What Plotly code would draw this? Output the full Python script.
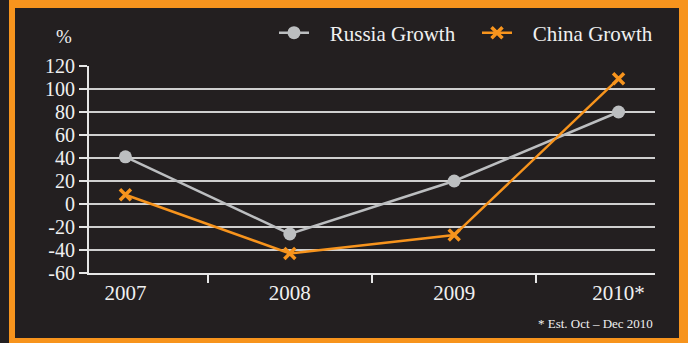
import plotly.graph_objects as go

years = ["2007", "2008", "2009", "2010*"]
russia = [41, -26, 20, 80]
china = [8, -43, -27, 109]
y_ticks = [-60, -40, -20, 0, 20, 40, 60, 80, 100, 120]
y_tick_labels = [str(v) for v in y_ticks]

BG = "#231f20"
ORANGE = "#f7941d"
GRAY = "#bcbec0"
TXT = "#f0f0f0"
FONT = "Liberation Serif"
NB = "\u00a0"

W, H = 688, 343
L, R, T, B = 89, 33, 66, 70
PW, PH = W - L - R, H - T - B


def px(x):
    return (x - L) / PW


def py(y):
    return (H - B - y) / PH


fig = go.Figure()
fig.add_trace(go.Scatter(
    x=years, y=russia, name=NB * 3 + "Russia Growth", mode="lines+markers",
    line=dict(color=GRAY, width=2.5),
    marker=dict(symbol="circle", size=13, color=GRAY),
))
fig.add_trace(go.Scatter(
    x=years, y=china, name=NB * 3 + "China Growth", mode="lines+markers",
    line=dict(color=ORANGE, width=2.5),
    marker=dict(symbol="x-thin", size=11, color=ORANGE,
                line=dict(color=ORANGE, width=3.5)),
))

shapes = []
for (x0, y0, x1, y1) in [(9, 0, 15, 343), (9, 0, 688, 8), (679, 0, 688, 343), (9, 338, 688, 343)]:
    shapes.append(dict(type="rect", xref="paper", yref="paper",
                       x0=px(x0), x1=px(x1), y0=py(y0), y1=py(y1),
                       fillcolor=ORANGE, line=dict(width=0), layer="below"))

fig.update_layout(
    width=W, height=H,
    margin=dict(l=L, r=R, t=T, b=B, autoexpand=False),
    paper_bgcolor=BG, plot_bgcolor=BG,
    font=dict(family=FONT, color=TXT, size=20),
    shapes=shapes,
    showlegend=True,
    legend=dict(orientation="h", x=px(274), xanchor="left", y=py(33), yanchor="middle",
                font=dict(family=FONT, size=21, color=TXT),
                bgcolor="rgba(0,0,0,0)", itemwidth=30, tracegroupgap=0,
                entrywidth=158, entrywidthmode="pixels"),
    xaxis=dict(type="category", showgrid=False, showline=True, linecolor="#e6e6e6",
               linewidth=2, ticks="outside", tickson="boundaries", ticklen=8,
               tickcolor="#e6e6e6", tickwidth=2,
               tickfont=dict(family=FONT, size=21, color=TXT), zeroline=False),
    yaxis=dict(range=[-60, 120], tickvals=y_ticks, ticktext=y_tick_labels,
               showgrid=True, gridcolor="#cfcfcf",
               gridwidth=1.5, showline=True, linecolor="#e6e6e6", linewidth=2,
               ticks="outside", ticklen=8, tickcolor="#e6e6e6", tickwidth=2,
               tickfont=dict(family=FONT, size=20, color=TXT), zeroline=False),
    annotations=[
        dict(text="%", xref="paper", yref="paper", x=px(64), y=py(36),
             xanchor="center", yanchor="middle", showarrow=False,
             font=dict(family=FONT, size=19, color=TXT)),
        dict(text="* Est. Oct \u2013 Dec 2010", xref="paper", yref="paper",
             x=px(655), y=py(323), xanchor="right", yanchor="middle", showarrow=False,
             font=dict(family=FONT, size=13, color=TXT)),
    ],
)

fig.write_html("out.html", config={"displayModeBar": False},
               post_script="document.body.style.margin='0';document.body.style.background='#231f20';")
